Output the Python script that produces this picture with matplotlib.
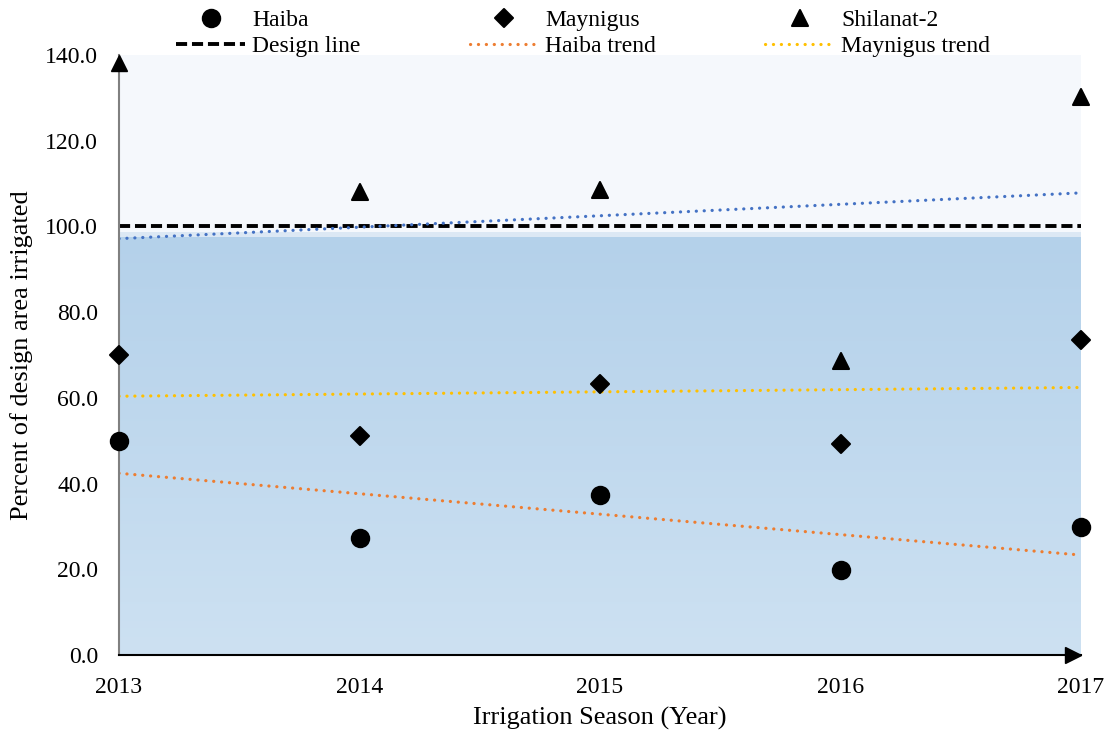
import numpy as np
import matplotlib
matplotlib.use("Agg")
import matplotlib.pyplot as plt
import matplotlib.transforms as mtransforms
from matplotlib.colors import LinearSegmentedColormap
from matplotlib.markers import MarkerStyle

plt.rcParams['font.family'] = ['Liberation Serif', 'DejaVu Serif']
plt.rcParams['lines.scale_dashes'] = False

years = [2013, 2014, 2015, 2016, 2017]
haiba = [50.0, 27.3, 37.3, 19.8, 29.9]
maynigus = [70.0, 51.1, 63.2, 49.2, 73.5]
shil_years = [2014, 2015, 2016, 2017]
shilanat = [108.0, 108.5, 68.6, 130.2]
design = 100.0
yticks = [0, 20, 40, 60, 80, 100, 120, 140]

fig = plt.figure(figsize=(11.10, 7.35), dpi=100)
ax = fig.add_axes([119/1110, 1-655/735, (1081-119)/1110, 600/735])
ax.set_xlim(2013, 2017)
ax.set_ylim(0, 140)

# background
ax.axhspan(0, 140, color='#F5F8FC', zorder=0, lw=0)
cmap = LinearSegmentedColormap.from_list('g', ['#CDE1F2', '#B4D1EA'])
grad = np.linspace(0, 1, 256).reshape(-1, 1)
ax.imshow(grad, cmap=cmap, origin='lower', extent=(2013, 2017, 0, 97.6),
          aspect='auto', zorder=0.5)
ax.axhspan(97.6, 98.8, color='#DCE8F4', zorder=0.5, lw=0)

# design line
ax.plot([2013, 2017], [design, design], color='black', lw=2.8,
        dashes=(8, 3.5), zorder=3, label='Design line')

# trends
def trend(xs, ys):
    p = np.polyfit(np.array(xs) - 2013, ys, 1)
    xx = np.array([2013, 2017])
    return xx, np.polyval(p, xx - 2013)

dot = dict(lw=2.3, dashes=(0.1, 5.6), dash_capstyle='round', zorder=3)
x, y = trend(years, haiba)
ax.plot(x, y, color='#ED7D31', label='Haiba trend', **dot)
x, y = trend(years, maynigus)
ax.plot(x, y, color='#FFC000', label='Maynigus trend', **dot)
x, y = trend(shil_years, shilanat)
ax.plot(x, y, color='#4472C4', **dot)

# points
mk = dict(color='black', ls='none', clip_on=False, zorder=5, mew=1.5)
ax.plot(years, haiba, marker='o', ms=12.5, label='Haiba', **mk)
ax.plot(years, maynigus, marker=MarkerStyle('D', joinstyle='round'), ms=9.5, label='Maynigus', **mk)
ax.plot(shil_years, shilanat, marker=MarkerStyle('^', joinstyle='round'), ms=11, label='Shilanat-2', **mk)

# axes styling
for s in ['top', 'right']:
    ax.spines[s].set_visible(False)
ax.spines['left'].set_color('#808080')
ax.spines['left'].set_linewidth(1.5)
ax.spines['bottom'].set_color('black')
ax.spines['bottom'].set_linewidth(1.5)
ax.spines['left'].set_zorder(4)
ax.spines['bottom'].set_zorder(4)
tr_up = mtransforms.offset_copy(ax.transData, fig=fig, x=0, y=-8, units='dots')
ax.plot([2013], [140], marker='^', color='black', ms=12, clip_on=False, zorder=6, transform=tr_up)
tr_rt = mtransforms.offset_copy(ax.transData, fig=fig, x=-8, y=0, units='dots')
ax.plot([2017], [0], marker='>', color='black', ms=12, clip_on=False, zorder=6, transform=tr_rt)

ax.set_yticks(yticks)
ax.set_yticklabels([f'{v:.1f}' for v in yticks])
ax.set_xticks(years)
ax.set_xticklabels([str(v) for v in years])
ax.tick_params(length=0, labelsize=17)
ax.tick_params(axis='y', pad=15)
ax.tick_params(axis='x', pad=16)
ax.set_xlabel('Irrigation Season (Year)', fontsize=19, labelpad=6)
ax.set_ylabel('Percent of design area irrigated', fontsize=19)
ax.yaxis.set_label_coords((33 - 119) / 962, 0.5)

h = {l.get_label(): l for l in ax.get_lines()}
order = ['Haiba', 'Design line', 'Maynigus', 'Haiba trend', 'Shilanat-2', 'Maynigus trend']
handles = [h[k] for k in order]
fig.legend(handles, order, ncol=3, loc='upper left', bbox_to_anchor=(167/1110, 1.0),
           frameon=False, fontsize=17, handlelength=2.9, handletextpad=0.3,
           columnspacing=4.63, labelspacing=0.2, borderaxespad=0.3, borderpad=0.1)

fig.savefig('out.png', dpi=100)
